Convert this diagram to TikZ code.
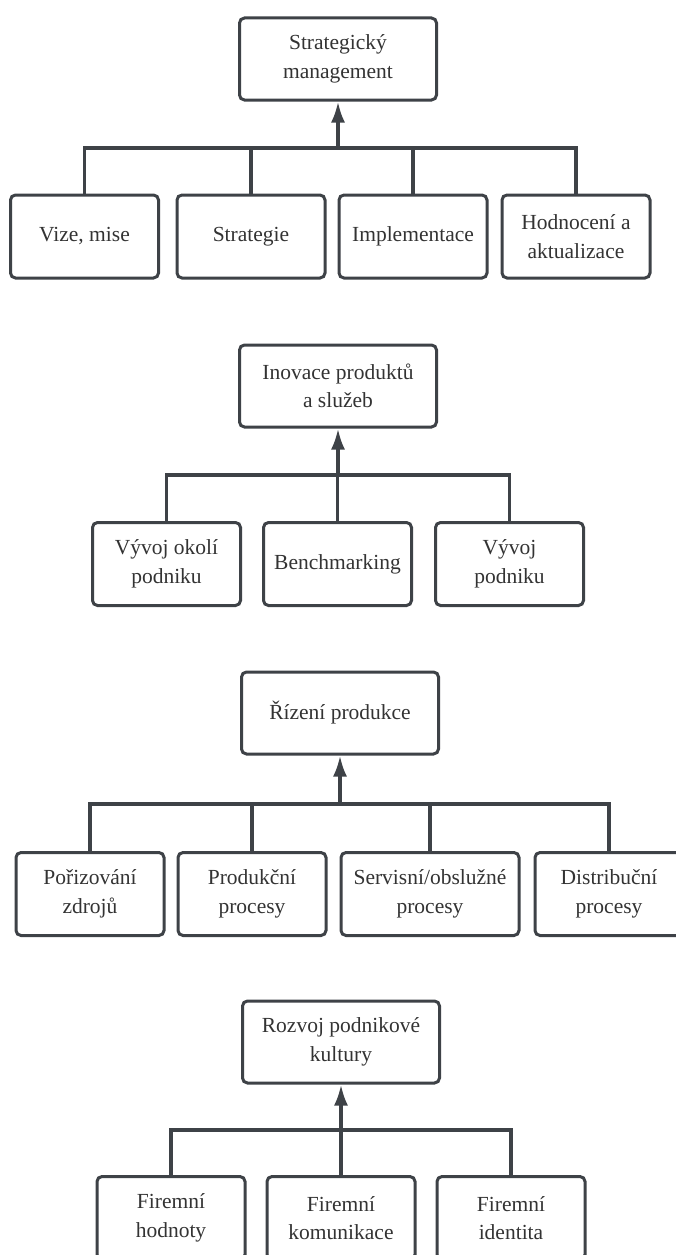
\documentclass[tikz,border=0pt]{standalone}
\usepackage{fontspec}
\setmainfont{Liberation Serif}
\usetikzlibrary{arrows.meta,positioning}
\definecolor{linegray}{HTML}{3E4247}
\definecolor{textgray}{HTML}{333333}

\begin{document}
\begin{tikzpicture}[x=1pt,y=-1pt]
    \tikzstyle{box}=[rectangle, rounded corners=5pt, draw=linegray, line width=3pt, fill=white, text=textgray, minimum width=148pt, minimum height=83pt, align=center, font=\fontsize{21.5}{28.5}\selectfont]
    \tikzstyle{topbox}=[box, minimum width=197pt, minimum height=82pt]
    \tikzstyle{wire}=[draw=linegray, line width=3.5pt]
    \tikzstyle{up}=[wire, -{Latex[length=21pt,width=14pt]}]

    \useasboundingbox (0,0) rectangle (675,1255);

    % strategicky management
    \node[topbox] (sm)    at (338,59)    {Strategický\\management};
    \node[box]    (vize)  at (84.5,236.5) {Vize, mise};
    \node[box]    (strat) at (251,236.5)  {Strategie};
    \node[box]    (impl)  at (413,236.5)  {Implementace};
    \node[box]    (hodn)  at (576,236.5)  {Hodnocení a\\aktualizace};
    \coordinate (j1) at (338,148);

    \draw[up] (j1) -- (sm);
    \draw[wire] (vize) |- (j1) -| (hodn);
    \draw[wire] (strat) -- (strat |- j1);
    \draw[wire] (impl) -- (impl |- j1);

    % inovace
    \node[topbox] (inov)  at (338,386)   {Inovace produktů\\a služeb};
    \node[box]    (okoli) at (166.5,564) {Vývoj okolí\\podniku};
    \node[box]    (bench) at (337.5,564) {Benchmarking};
    \node[box]    (vyvoj) at (509.5,564) {Vývoj\\podniku};
    \coordinate (j2) at (338,475);

    \draw[up] (j2) -- (inov);
    \draw[wire] (okoli) |- (j2) -| (vyvoj);
    \draw[wire] (bench) -- (bench |- j2);

    % rizeni produkce
    \node[topbox] (riz)   at (340,713) {Řízení produkce};
    \node[box]    (poriz) at (90,894)  {Pořizování\\zdrojů};
    \node[box]    (prod)  at (252,894) {Produkční\\procesy};
    \node[box, minimum width=178pt] (serv) at (430,894) {Servisní/obslužné\\procesy};
    \node[box]    (distr) at (609,894) {Distribuční\\procesy};
    \coordinate (j3) at (340,804);

    \draw[up] (j3) -- (riz);
    \draw[wire] (poriz) |- (j3) -| (distr);
    \draw[wire] (prod) -- (prod |- j3);
    \draw[wire] (serv) -- (serv |- j3);

    % podnikova kultura
    \node[topbox] (kult)  at (341,1042) {Rozvoj podnikové\\kultury};
    \node[box]    (hodno) at (171,1218) {Firemní\\hodnoty};
    \node[box]    (komun) at (341,1218) {Firemní\\komunikace};
    \node[box]    (ident) at (511,1218) {Firemní\\identita};
    \coordinate (j4) at (341,1130);

    \draw[up] (j4) -- (kult);
    \draw[wire] (hodno) |- (j4) -| (ident);
    \draw[wire] (komun) -- (komun |- j4);

\end{tikzpicture}
\end{document}
